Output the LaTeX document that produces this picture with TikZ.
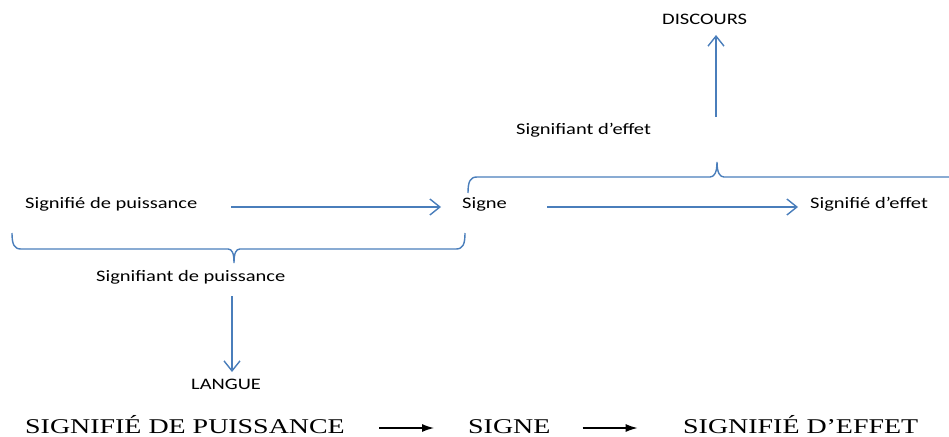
\documentclass[tikz,border=0pt]{standalone}
\usepackage{fontspec}
\setmainfont{Carlito}
\newfontfamily\lblfont[FakeStretch=1.28]{Carlito}
\newfontfamily\bigfont[FakeStretch=1.33]{Liberation Serif}
\usetikzlibrary{arrows.meta}
\definecolor{oblue}{HTML}{4A7EBB}
\begin{document}
\begin{tikzpicture}[x=1pt,y=-1pt,
  lbl/.style={inner sep=0pt,anchor=base west,font=\lblfont\fontsize{16}{16}\selectfont},
  big/.style={inner sep=0pt,anchor=base west,font=\bigfont\fontsize{21}{21}\selectfont},
  barrow/.style={draw=oblue,line width=1.6pt,-{Straight Barb[length=10pt,width=16pt,line width=1.4pt]}},
  brace/.style={draw=oblue,line width=1.4pt},
  karrow/.style={draw=black,line width=1.4pt,-{Latex[length=12pt,width=8pt]}}]
\useasboundingbox (0,0) rectangle (949,436);
% top
\node[lbl] (disc) at (662,25) {DISCOURS};
\coordinate (upstart) at (716,117);
\coordinate (upend) at (716,35);
\draw[barrow] (upstart) -- (upend);
\node[lbl] (sefft) at (516,134) {Signifiant d’effet};
\draw[brace] (468,193) .. controls (468,182) and (470,177) .. (477,177) -- (710,177)
  .. controls (714,177) and (717,173) .. (717,162)
  .. controls (717,173) and (720,177) .. (724,177) -- (949,177);
% middle row
\node[lbl] (sdp) at (25,208) {Signifié de puissance};
\node[lbl] (signe) at (462,208) {Signe};
\node[lbl] (sde) at (810,208) {Signifié d’effet};
\coordinate (a1s) at (231,207);
\coordinate (a1e) at (441,207);
\draw[barrow] (a1s) -- (a1e);
\coordinate (a2s) at (547,207);
\coordinate (a2e) at (798,207);
\draw[barrow] (a2s) -- (a2e);
% lower brace
\draw[brace] (12,233) .. controls (12,244) and (14,249) .. (21,249) -- (228,249)
  .. controls (232,249) and (234,253) .. (234,263)
  .. controls (234,253) and (236,249) .. (240,249) -- (456,249)
  .. controls (463,249) and (465,244) .. (465,233);
\node[lbl] (sfp) at (96,281) {Signifiant de puissance};
\coordinate (dnstart) at (232,296);
\coordinate (dnend) at (232,372);
\node[lbl] (langue) at (191,389) {LANGUE};
\draw[barrow] (dnstart) -- (dnend);
% bottom
\node[big] (B1) at (25,433) {SIGNIFIÉ DE PUISSANCE};
\node[big] (B2) at (468,433) {SIGNE};
\node[big] (B3) at (683,433) {SIGNIFIÉ D’EFFET};
\draw[karrow] (B1.base east) ++(34,-5) coordinate (k1s) (k1s) -- ++(55,0) coordinate (k1e);
\draw[karrow] (B2.base east) ++(32,-5) coordinate (k2s) (k2s) -- ++(55,0) coordinate (k2e);
\end{tikzpicture}
\end{document}
